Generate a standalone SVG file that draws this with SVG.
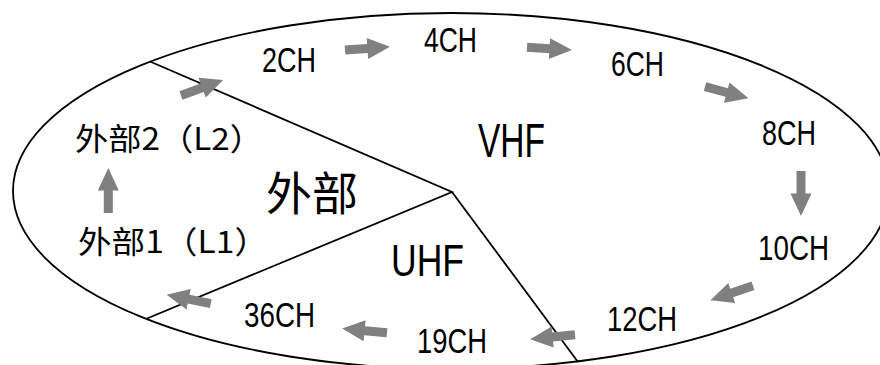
<svg xmlns="http://www.w3.org/2000/svg" width="880" height="365" viewBox="0 0 880 365">
<style>
.ln{fill:none;stroke:#000;stroke-width:1.8}
.lb{font-family:"Liberation Sans",Arial,sans-serif;font-size:34.5px;fill:#000}
.big{font-family:"Liberation Sans",Arial,sans-serif;fill:#000}
.cjk{font-family:"Noto Sans CJK SC","Noto Sans CJK JP",sans-serif;fill:#000}
.ar{fill:#808080}
</style>
<defs>
<path id="arw" d="M0,-4.5 L22.5,-4.5 L22.5,-10.5 L45,0 L22.5,10.5 L22.5,4.5 L0,4.5 Z"/>
</defs>
<rect width="880" height="365" fill="#fff"/>
<g id="frame">
<ellipse class="ln" cx="451" cy="191" rx="438" ry="178"/>
<polyline class="ln" points="150,61.5 452,192 147,318.5"/>
<line class="ln" x1="452" y1="192" x2="578" y2="362"/>
</g>
<g id="connectors" class="ar">
<use href="#arw" transform="translate(181,95.5) rotate(-20.3)"/>
<use href="#arw" transform="translate(345,50) rotate(-4)"/>
<use href="#arw" transform="translate(527,47.3) rotate(3.4)"/>
<use href="#arw" transform="translate(705,86.7) rotate(15)"/>
<use href="#arw" transform="translate(801,171) rotate(90)"/>
<use href="#arw" transform="translate(753,285.7) rotate(161)"/>
<use href="#arw" transform="translate(575,334.7) rotate(174.3)"/>
<use href="#arw" transform="translate(387,332.8) rotate(185.4)"/>
<use href="#arw" transform="translate(210.7,303.7) rotate(191.6)"/>
<use href="#arw" transform="translate(108.3,213) rotate(-90)"/>
</g>
<g id="n2ch"><text class="lb" x="262" y="72" textLength="54" lengthAdjust="spacingAndGlyphs">2CH</text></g>
<g id="n4ch"><text class="lb" x="424" y="52" textLength="53" lengthAdjust="spacingAndGlyphs">4CH</text></g>
<g id="n6ch"><text class="lb" x="611" y="76" textLength="53" lengthAdjust="spacingAndGlyphs">6CH</text></g>
<g id="n8ch"><text class="lb" x="762" y="145" textLength="54" lengthAdjust="spacingAndGlyphs">8CH</text></g>
<g id="n10ch"><text class="lb" x="758" y="260" textLength="71" lengthAdjust="spacingAndGlyphs">10CH</text></g>
<g id="n12ch"><text class="lb" x="607" y="331" textLength="70" lengthAdjust="spacingAndGlyphs">12CH</text></g>
<g id="n19ch"><text class="lb" x="417" y="353" textLength="70" lengthAdjust="spacingAndGlyphs">19CH</text></g>
<g id="n36ch"><text class="lb" x="244" y="327" textLength="71" lengthAdjust="spacingAndGlyphs">36CH</text></g>
<g id="vhf"><text class="big" x="478" y="157" font-size="48" textLength="67" lengthAdjust="spacingAndGlyphs">VHF</text></g>
<g id="uhf"><text class="big" x="391" y="276" font-size="44" textLength="73" lengthAdjust="spacingAndGlyphs">UHF</text></g>
<g id="gaibu"><text class="cjk" x="266" y="209.5" font-size="46">外部</text></g>
<g id="l2"><text class="cjk" x="75" y="150" font-size="31" textLength="188" lengthAdjust="spacingAndGlyphs">外部2（L2）</text></g>
<g id="l1"><text class="cjk" x="78" y="253" font-size="31" textLength="190" lengthAdjust="spacingAndGlyphs">外部1（L1）</text></g>
</svg>
